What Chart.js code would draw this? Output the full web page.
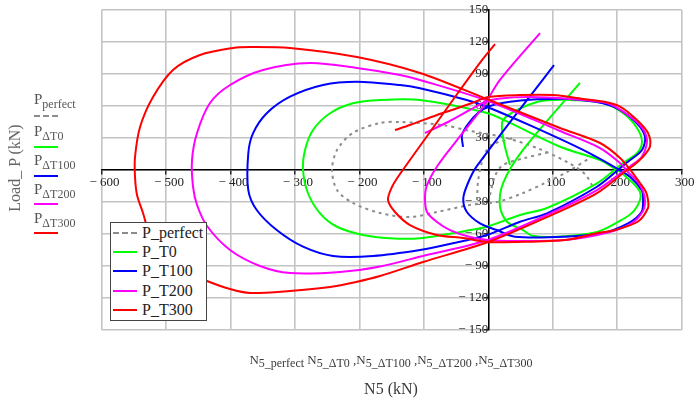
<!DOCTYPE html>
<html>
<head>
<meta charset="utf-8">
<script src="https://cdn.jsdelivr.net/npm/chart.js@4.4.0/dist/chart.umd.min.js"></script>
<style>
  body { margin: 0; background: #fff; font-family: "Liberation Serif", "Times New Roman", serif; }
  #wrap { position: relative; width: 694px; height: 401px; overflow: hidden; background: #fff; }
  #chart { position: absolute; left: 0; top: 0; }
  .side { position: absolute; left: 34px; color: #555; font-size: 15px; line-height: 15px; white-space: nowrap; }
  .side span { font-size: 12px; position: relative; top: 4px; }
  .sw { position: absolute; height: 0; }
  #ylab { position: absolute; left: 15px; top: 168px; transform: translate(-50%, -50%) rotate(-90deg);
          color: #666; font-size: 16px; white-space: nowrap; }
  #xvars { position: absolute; left: 391px; top: 352px; transform: translateX(-50%); color: #3a3a3a;
           font-size: 13px; white-space: nowrap; }
  #xvars span { font-size: 12px; position: relative; top: 3px; }
  #xlab { position: absolute; left: 391px; top: 380px; transform: translateX(-50%); color: #3a3a3a;
          font-size: 16px; white-space: nowrap; }
  #legend { position: absolute; left: 110px; top: 222px; width: 95px; height: 97px; border: 1.5px solid #444;
            background: #fff; }
  .row { position: absolute; left: 0; width: 95px; height: 18px; }
  .row .sw { left: 2px; width: 24px; top: 8px; }
  .row .t { position: absolute; left: 31px; top: 0; font-size: 16px; line-height: 18px; color: #222; }
</style>
</head>
<body>
<div id="wrap">
  <canvas id="chart" width="694" height="401"></canvas>
  <div id="ylab">Load_ P (kN)</div>
  <div class="side" style="top:92px">P<span>perfect</span></div>
  <div class="sw" style="left:34px;top:115px;width:24px;border-top:2px dashed #8c8c8c"></div>
  <div class="side" style="top:124px">P<span>ΔT0</span></div>
  <div class="sw" style="left:34px;top:146px;width:24px;border-top:2px solid #00ff00"></div>
  <div class="side" style="top:153px">P<span>ΔT100</span></div>
  <div class="sw" style="left:34px;top:175px;width:24px;border-top:2px solid #0000ff"></div>
  <div class="side" style="top:182px">P<span>ΔT200</span></div>
  <div class="sw" style="left:34px;top:203px;width:24px;border-top:2px solid #ff00ff"></div>
  <div class="side" style="top:211px">P<span>ΔT300</span></div>
  <div class="sw" style="left:34px;top:232px;width:24px;border-top:2px solid #ff0000"></div>
  <div id="xvars">N<span>5_perfect</span> N<span>5_ΔT0</span> ,N<span>5_ΔT100</span> ,N<span>5_ΔT200</span> ,N<span>5_ΔT300</span></div>
  <div id="xlab">N5 (kN)</div>
  <div id="legend"></div>
</div>
<script>
// N5 (kN) and Load P (kN), one pair of arrays per curve
const n_perfect = [162.4, 122.1, 87.9, 53.8, 13.5, -28.4, -79.6, -121.5, -168.0, -210.2, -234.7, -242.4, -234.7, -210.2, -168.0, -137.0, -70.3, -28.4, 22.8, 75.5, 122.1, 150.0, 162.4,
  null, -17.5, -16.0, -9.8, 2.6, 38.3,
  null, 2.6, 10.4, 22.8, 56.9, 95.7];
const p_perfect = [13.1, -1.9, -12.2, -21.6, -30, -32.8, -39.4, -44.1, -40.3, -30.9, -18.8, 0, 18.8, 34.7, 44.1, 45, 42.2, 36.6, 30.9, 20.6, 7.5, -3.8, -15.9,
  null, -28.1, -11.3, 7.5, 22.5, 30,
  null, -23.4, -5.6, 4.7, 11.3, 16.9];

const n_T0 = [33.7, 25.9, 21.3, 22.8, 44.5, 75.5, 100.4, 126.7, 177.9, 208.9, 230.6, 238.4, 230.6, 208.9, 199.6, 168.6, 91.0, 49.2, -2.0, -28.4, -54.8, -105.9, -152.5, -194.4, -234.7, -261.0, -279.7, -287.4, -284.3, -271.9, -245.5, -209.9, -168.0, -105.9, -2.0, 33.7, 111.2, 173.3, 199.6, 204.3, 224.4, 235.3, 235.3, 226.0, 212.0, 170.2, 108.1, 67.8, 53.8, 29.0, 18.1, 22.8, 53.8, 142.2];
const p_T0 = [4.7, 21.6, 37.5, 46.9, 56.3, 63.8, 65.6, 65.6, 62.8, 53.4, 39.4, 26.5, 15.7, 6.6, 1.9, -12.5, -35.6, -42.2, -53.2, -56.3, -59.3, -64.0, -64.0, -60.9, -53.2, -40.6, -21.8, 0, 18.8, 37.5, 53.2, 62.5, 65.6, 65.6, 53.4, 44.1, 21.8, 9.4, 0, -1.6, -12.2, -20.6, -28.1, -38.4, -45, -57.8, -62.5, -61.6, -56.3, -48.5, -34.4, -12.5, 18.8, 81.6];

const n_T100 = [-39.2, -40.8, -31.5, -16.0, 2.6, 33.7, 75.5, 126.7, 177.9, 204.3, 230.6, 243.1, 238.4, 216.7, 204.3, 168.6, 91.0, 49.2, -2.0, -54.8, -106.0, -178.8, -240.9, -287.4, -328.2, -359.2, -372.3, -372.3, -365.0, -343.7, -307.6, -256.4, -204.1, -137.0, -105.9, -33.5, -2.5, 69.3, 146.9, 199.2, 219.8, 237.9, 240.0, 237.9, 216.7, 175.9, 119.0, 41.4, 13.0, -12.9, -33.5, -38.8, -31.5, -17.5, 101.9];
const p_T100 = [21.6, 32.8, 43.1, 53.4, 60, 64.0, 66.3, 66.6, 62.5, 56.3, 43.8, 31.2, 18.8, 7.8, 1.6, -15.7, -40.6, -48.5, -60.9, -68.7, -75, -80.6, -80.6, -71.9, -56.3, -37.5, -18.8, 15.7, 34.4, 53.2, 68.7, 79.7, 82.8, 79.7, 76.6, 65.6, 59.3, 40.6, 18.8, 1.6, -6.3, -18.8, -26.3, -39.1, -50.0, -59.3, -62.5, -62.5, -56.3, -50.0, -39.1, -26.5, -12.2, 3.8, 98.4];

const n_T200 = [-98.2, -62.5, -28.4, -5.1, 18.1, 64.7, 126.7, 184.1, 208.9, 235.3, 246.2, 238.4, 219.8, 212.0, 168.6, 91.0, -0.5, -101.3, -168.0, -230.0, -307.6, -354.1, -400.6, -436.3, -451.8, -458.0, -459.6, -451.8, -431.7, -400.6, -349.5, -276.6, -203.7, -137.0, -105.9, -0.5, 111.2, 173.3, 204.3, 216.7, 230.6, 240.0, 243.1, 240.0, 222.9, 188.8, 119.0, 41.4, -0.5, -28.4, -59.4, -79.6, -95.1, -98.2, -95.1, -78.0, -48.5, -8.2, 18.1, 80.2];
const p_T200 = [34.7, 45, 56.3, 63.8, 67, 68.4, 66.6, 62.8, 54.8, 42.2, 28.1, 12.7, 3.3, 0, -18.8, -42.2, -65.6, -80.6, -90.5, -95.6, -96.6, -90, -75, -52.5, -32.8, -15.9, 9.4, 34.7, 62.8, 79.7, 93.8, 100.3, 95.6, 89.1, 84.4, 64.7, 36.6, 20.6, 6.6, -1.9, -10.3, -19.7, -29.1, -38.4, -49.7, -58.1, -65.6, -66.6, -65.6, -62.8, -56.3, -48.8, -39.4, -26.3, -14.1, 4.7, 28.1, 59.1, 84.4, 128.4];

const n_T300 = [-144.7, -121.5, -79.6, -51.7, -25.3, -0.5, 49.2, 100.4, 146.9, 177.9, 204.3, 230.6, 247.7, 250.8, 238.4, 222.9, 215.1, 168.6, 91.0, -0.5, -101.3, -168.0, -205.2, -245.5, -307.6, -369.6, -400.6, -436.3, -470.4, -501.5, -524.7, -535.6, -544.9, -548.0, -548.0, -540.2, -520.1, -489.1, -447.2, -396.0, -369.6, -307.6, -203.7, -105.9, -0.5, 111.2, 173.3, 204.3, 222.9, 235.3, 244.6, 247.7, 247.7, 232.2, 196.5, 170.2, 119.0, 41.4, -0.5, -39.2, -79.6, -121.5, -144.7, -155.6, -149.4, -137.0, -90.4, -43.9, -9.8, 10.4];
const p_T300 = [37.5, 42.2, 51.6, 57.2, 62.8, 68.4, 70.3, 70.3, 66.6, 64.2, 59.5, 46.9, 34.7, 22.0, 11.3, 3.3, 0, -21.6, -44.1, -67.5, -86.3, -99.4, -105, -109.7, -113.4, -115.3, -111.6, -104.1, -94.7, -78.8, -60.9, -40.3, -23.4, -6.6, 12.2, 40.3, 68.4, 93.8, 107.8, 114.4, 115.3, 114.4, 105.9, 90.9, 66.1, 39.4, 25.3, 11.3, -1.9, -12.2, -20.6, -28.1, -35.6, -48.3, -56.3, -59.1, -65.6, -67.5, -67.5, -63.8, -60.9, -51.6, -39.4, -28.1, -15.9, -3.8, 35.6, 75, 103.1, 118.1];

const series_names = ['P_perfect', 'P_T0', 'P_T100', 'P_T200', 'P_T300'];
const series_colors = ['#8c8c8c', '#00ff00', '#0000ff', '#ff00ff', '#ff0000'];
const x_ticks = { min: -600, max: 300, step: 100 };
const y_ticks = { min: -150, max: 150, step: 30 };

// zip N and P into points, null keeps a gap in the line
function toPoints(n, p) {
  return n.map((v, i) => v === null ? { x: null, y: null } : { x: v, y: p[i] });
}

const all_n = [n_perfect, n_T0, n_T100, n_T200, n_T300];
const all_p = [p_perfect, p_T0, p_T100, p_T200, p_T300];

const datasets = series_names.map((name, i) => ({
  label: name,
  data: toPoints(all_n[i], all_p[i]),
  showLine: true,
  borderColor: series_colors[i],
  backgroundColor: series_colors[i],
  borderWidth: 2,
  borderDash: i === 0 ? [3, 4] : [],
  pointRadius: 0,
  tension: 0.3,
  spanGaps: false,
  order: 5 - i
}));

// legend box drawn over the plot, like the original
const legend = document.querySelector('#legend');
series_names.forEach((name, i) => {
  const top = 1 + i * 19.2;
  const line = i === 0 ? `2px dashed ${series_colors[i]}` : `2px solid ${series_colors[i]}`;
  legend.innerHTML += `<div class="row" style="top:${top}px"><div class="sw" style="border-top:${line}"></div><div class="t">${name}</div></div>`;
});

function fmt(v) {
  return v < 0 ? '\u2212 ' + Math.abs(v) : String(v);
}

Chart.defaults.font.family = '"Liberation Serif", "Times New Roman", serif';

new Chart(document.querySelector('#chart'), {
  type: 'scatter',
  data: { datasets: datasets },
  options: {
    responsive: false,
    animation: false,
    devicePixelRatio: 1,
    layout: { padding: { left: 101.5, right: 12.3, top: 10, bottom: 71 } },
    plugins: { legend: { display: false }, tooltip: { enabled: false } },
    scales: {
      x: {
        type: 'linear',
        min: x_ticks.min, max: x_ticks.max,
        position: { y: 0 },
        ticks: {
          stepSize: x_ticks.step, autoSkip: false, maxRotation: 0, padding: 1, labelOffset: 3,
          color: '#222', font: { size: 13 },
          callback: v => fmt(v)
        },
        grid: { color: '#c4c4c4', lineWidth: 1.6, tickLength: 4, tickColor: '#000', tickWidth: 1.2 },
        border: { color: '#000', width: 1.5 },
        afterFit: s => { s.height = 0; }
      },
      y: {
        type: 'linear',
        min: y_ticks.min, max: y_ticks.max,
        position: { x: 0 },
        ticks: {
          stepSize: y_ticks.step, autoSkip: false, padding: 0,
          color: '#222', font: { size: 13 },
          callback: v => v === 0 ? '' : fmt(v)
        },
        grid: { color: '#c4c4c4', lineWidth: 1.6, tickLength: 4, tickColor: '#000', tickWidth: 1.2 },
        border: { color: '#000', width: 1.5 },
        afterFit: s => { s.width = 0; }
      }
    }
  }
});
</script>
</body>
</html>
